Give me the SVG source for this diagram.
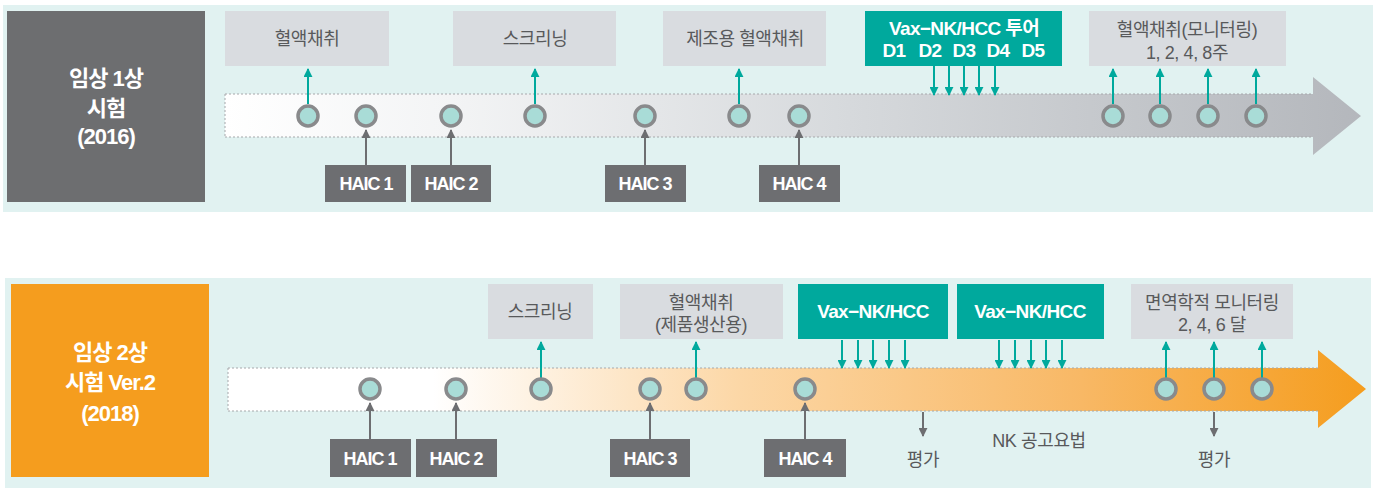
<svg xmlns="http://www.w3.org/2000/svg" width="1378" height="488" viewBox="0 0 1378 488">
<style>
.bg{fill:#e1f2f1}
.lbox{fill:#d9dce0}
.tbox{fill:#00a99d}
.hbox{fill:#6d6e71}
.t{font-family:"Liberation Sans","Noto Sans CJK KR",sans-serif;font-size:18px;text-anchor:middle;letter-spacing:-0.4px}
.tg{fill:#58595b}
.tw{fill:#ffffff}
.b{font-weight:bold}
.h{font-size:18px;font-weight:bold;letter-spacing:-1px}
.v{font-size:19px;font-weight:bold;letter-spacing:-0.6px}
.big{font-size:22px;font-weight:bold;fill:#fff;letter-spacing:-1px}
.dot{fill:#a9dcd7;stroke:#898a8c;stroke-width:3.5}
.ta{stroke:#00a99d;stroke-width:2;fill:none}
.ga{stroke:#6d6e71;stroke-width:2;fill:none}
.band{stroke:#a6a8ab;stroke-width:1;stroke-dasharray:2 2}
</style>
<defs>
<linearGradient id="gTop" x1="225" y1="0" x2="1361" y2="0" gradientUnits="userSpaceOnUse">
<stop offset="0" stop-color="#ffffff"/>
<stop offset="0.2" stop-color="#f3f4f5"/>
<stop offset="0.55" stop-color="#d6d9dc"/>
<stop offset="1" stop-color="#b4b7bc"/>
</linearGradient>
<linearGradient id="gBot" x1="228" y1="0" x2="1366" y2="0" gradientUnits="userSpaceOnUse">
<stop offset="0" stop-color="#ffffff"/>
<stop offset="0.18" stop-color="#ffffff"/>
<stop offset="0.45" stop-color="#fcd7a6"/>
<stop offset="0.75" stop-color="#f8b865"/>
<stop offset="1" stop-color="#f59d1e"/>
</linearGradient>
<marker id="mt" viewBox="0 0 10 10" refX="9" refY="5" markerWidth="4.5" markerHeight="4.5" orient="auto"><path d="M0,0 L10,5 L0,10 z" fill="#00a99d"/></marker>
<marker id="mg" viewBox="0 0 10 10" refX="9" refY="5" markerWidth="4.5" markerHeight="4.5" orient="auto"><path d="M0,0 L10,5 L0,10 z" fill="#6d6e71"/></marker>
</defs>

<!-- Panel 1 -->
<g id="panel1">
<rect class="bg" x="3" y="5" width="1370" height="207"/>
<path d="M225,94 H1313 V77 L1361,116 L1313,155 V137 H225 Z" fill="url(#gTop)"/>
<path class="band" d="M225,94 H1313 M225,137 H1313 M225,94 V137" fill="none"/>
</g>
<g id="phase1"><rect x="7" y="11" width="198" height="191" fill="#6d6e70"/>
<text class="t big" x="106" y="86">임상 1상</text>
<text class="t big" x="106" y="116">시험</text>
<text class="t big" x="106" y="144">(2016)</text></g>

<g id="connectors1">
<path class="ta" d="M308,104 V69" marker-end="url(#mt)"/>
<path class="ta" d="M535,104 V69" marker-end="url(#mt)"/>
<path class="ta" d="M739,104 V69" marker-end="url(#mt)"/>
<path class="ta" d="M1113,104 V69" marker-end="url(#mt)"/>
<path class="ta" d="M1160,104 V69" marker-end="url(#mt)"/>
<path class="ta" d="M1208,104 V69" marker-end="url(#mt)"/>
<path class="ta" d="M1256,104 V69" marker-end="url(#mt)"/>
<path class="ta" d="M934,66 V95" marker-end="url(#mt)"/>
<path class="ta" d="M949,66 V95" marker-end="url(#mt)"/>
<path class="ta" d="M964,66 V95" marker-end="url(#mt)"/>
<path class="ta" d="M979,66 V95" marker-end="url(#mt)"/>
<path class="ta" d="M995,66 V95" marker-end="url(#mt)"/>
<path class="ga" d="M366,165 V130" marker-end="url(#mg)"/>
<path class="ga" d="M451,165 V130" marker-end="url(#mg)"/>
<path class="ga" d="M645,165 V130" marker-end="url(#mg)"/>
<path class="ga" d="M799,165 V130" marker-end="url(#mg)"/>
</g>

<g id="dots1">
<circle class="dot" cx="308" cy="116" r="10"/>
<circle class="dot" cx="366" cy="116" r="10"/>
<circle class="dot" cx="451" cy="116" r="10"/>
<circle class="dot" cx="535" cy="116" r="10"/>
<circle class="dot" cx="645" cy="116" r="10"/>
<circle class="dot" cx="739" cy="116" r="10"/>
<circle class="dot" cx="799" cy="116" r="10"/>
<circle class="dot" cx="1113" cy="116" r="10"/>
<circle class="dot" cx="1160" cy="116" r="10"/>
<circle class="dot" cx="1208" cy="116" r="10"/>
<circle class="dot" cx="1256" cy="116" r="10"/>
</g>

<g id="n1_blood"><rect class="lbox" x="225" y="11" width="164" height="55"/><text class="t tg" x="307" y="45">혈액채취</text></g>
<g id="n1_screen"><rect class="lbox" x="453" y="11" width="163" height="55"/><text class="t tg" x="535" y="45">스크리닝</text></g>
<g id="n1_mfg"><rect class="lbox" x="663" y="11" width="163" height="55"/><text class="t tg" x="745" y="45">제조용 혈액채취</text></g>
<g id="n1_vax"><rect class="tbox" x="865" y="11" width="197" height="55"/><text class="t tw v" x="964" y="35">Vax−NK/HCC 투어</text>
<text class="t tw v" x="894" y="57">D1</text><text class="t tw v" x="930" y="57">D2</text><text class="t tw v" x="964" y="57">D3</text><text class="t tw v" x="998" y="57">D4</text><text class="t tw v" x="1033" y="57">D5</text></g>
<g id="n1_mon"><rect class="lbox" x="1089" y="11" width="197" height="55"/><text class="t tg" x="1187" y="36">혈액채취(모니터링)</text><text class="t tg" x="1187" y="59">1, 2, 4, 8주</text></g>
<g id="n1_h1"><rect class="hbox" x="325" y="165" width="81" height="37"/><text class="t tw h" x="366" y="190">HAIC 1</text></g>
<g id="n1_h2"><rect class="hbox" x="411" y="165" width="80" height="37"/><text class="t tw h" x="451" y="190">HAIC 2</text></g>
<g id="n1_h3"><rect class="hbox" x="605" y="165" width="81" height="37"/><text class="t tw h" x="645" y="190">HAIC 3</text></g>
<g id="n1_h4"><rect class="hbox" x="759" y="165" width="81" height="37"/><text class="t tw h" x="799" y="190">HAIC 4</text></g>

<!-- Panel 2 -->
<g id="panel2">
<rect class="bg" x="5" y="278" width="1366" height="210"/>
<path d="M228,368 H1318 V350 L1366,389 L1318,428 V411 H228 Z" fill="url(#gBot)"/>
<path class="band" d="M228,368 H1318 M228,411 H1318 M228,368 V411" fill="none"/>
</g>
<g id="phase2"><rect x="11" y="284" width="198" height="193" fill="#f59d1e"/>
<text class="t big" x="110" y="360">임상 2상</text>
<text class="t big" x="110" y="390">시험 Ver.2</text>
<text class="t big" x="110" y="421">(2018)</text></g>

<g id="connectors2">
<path class="ta" d="M541,378 V342" marker-end="url(#mt)"/>
<path class="ta" d="M696,378 V342" marker-end="url(#mt)"/>
<path class="ta" d="M1166,378 V342" marker-end="url(#mt)"/>
<path class="ta" d="M1214,378 V342" marker-end="url(#mt)"/>
<path class="ta" d="M1262,378 V342" marker-end="url(#mt)"/>
<path class="ta" d="M842,340 V368" marker-end="url(#mt)"/>
<path class="ta" d="M858,340 V368" marker-end="url(#mt)"/>
<path class="ta" d="M873,340 V368" marker-end="url(#mt)"/>
<path class="ta" d="M889,340 V368" marker-end="url(#mt)"/>
<path class="ta" d="M905,340 V368" marker-end="url(#mt)"/>
<path class="ta" d="M999,340 V368" marker-end="url(#mt)"/>
<path class="ta" d="M1015,340 V368" marker-end="url(#mt)"/>
<path class="ta" d="M1031,340 V368" marker-end="url(#mt)"/>
<path class="ta" d="M1046,340 V368" marker-end="url(#mt)"/>
<path class="ta" d="M1062,340 V368" marker-end="url(#mt)"/>
<path class="ga" d="M370,439 V403" marker-end="url(#mg)"/>
<path class="ga" d="M456,439 V403" marker-end="url(#mg)"/>
<path class="ga" d="M650,439 V403" marker-end="url(#mg)"/>
<path class="ga" d="M805,439 V403" marker-end="url(#mg)"/>
<path class="ga" d="M923,412 V436" marker-end="url(#mg)"/>
<path class="ga" d="M1214,412 V436" marker-end="url(#mg)"/>
</g>

<g id="dots2">
<circle class="dot" cx="370" cy="389" r="10"/>
<circle class="dot" cx="456" cy="389" r="10"/>
<circle class="dot" cx="541" cy="389" r="10"/>
<circle class="dot" cx="650" cy="389" r="10"/>
<circle class="dot" cx="696" cy="389" r="10"/>
<circle class="dot" cx="805" cy="389" r="10"/>
<circle class="dot" cx="1166" cy="389" r="10"/>
<circle class="dot" cx="1214" cy="389" r="10"/>
<circle class="dot" cx="1262" cy="389" r="10"/>
</g>

<g id="n2_screen"><rect class="lbox" x="488" y="284" width="105" height="55"/><text class="t tg" x="540" y="318">스크리닝</text></g>
<g id="n2_blood"><rect class="lbox" x="620" y="284" width="163" height="55"/><text class="t tg" x="701" y="309">혈액채취</text><text class="t tg" x="701" y="331">(제품생산용)</text></g>
<g id="n2_vax1"><rect class="tbox" x="798" y="284" width="150" height="55"/><text class="t tw v" x="873" y="318">Vax−NK/HCC</text></g>
<g id="n2_vax2"><rect class="tbox" x="957" y="284" width="147" height="55"/><text class="t tw v" x="1030" y="318">Vax−NK/HCC</text></g>
<g id="n2_mon"><rect class="lbox" x="1131" y="284" width="162" height="55"/><text class="t tg" x="1212" y="309">면역학적 모니터링</text><text class="t tg" x="1212" y="331">2, 4, 6 달</text></g>
<g id="n2_h1"><rect class="hbox" x="330" y="439" width="81" height="38"/><text class="t tw h" x="370" y="465">HAIC 1</text></g>
<g id="n2_h2"><rect class="hbox" x="416" y="439" width="81" height="38"/><text class="t tw h" x="456" y="465">HAIC 2</text></g>
<g id="n2_h3"><rect class="hbox" x="610" y="439" width="80" height="38"/><text class="t tw h" x="650" y="465">HAIC 3</text></g>
<g id="n2_h4"><rect class="hbox" x="764" y="439" width="82" height="38"/><text class="t tw h" x="805" y="465">HAIC 4</text></g>
<g id="n2_eval1"><text class="t tg" x="923" y="466">평가</text></g>
<g id="n2_nk"><text class="t tg" x="1039" y="447">NK 공고요법</text></g>
<g id="n2_eval2"><text class="t tg" x="1214" y="466">평가</text></g>
</svg>
